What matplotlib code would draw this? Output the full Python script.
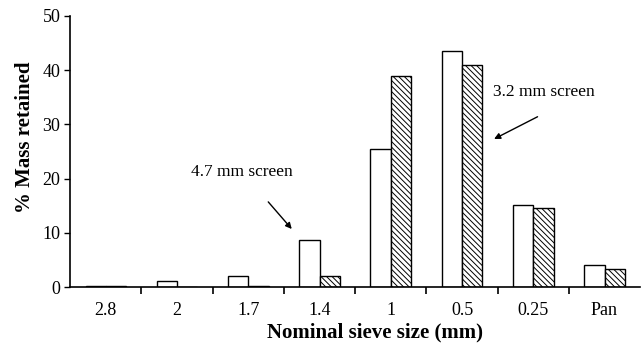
import matplotlib
matplotlib.use("Agg")
import matplotlib.pyplot as plt
import numpy as np

plt.rcParams['font.family'] = ['Liberation Serif', 'DejaVu Serif']
plt.rcParams['hatch.color'] = '#444444'
plt.rcParams['hatch.linewidth'] = 0.7

sieve = ['2.8', '2', '1.7', '1.4', '1', '0.5', '0.25', 'Pan']
screen_47 = [0.2, 1.2, 2.0, 8.6, 25.4, 43.5, 15.2, 4.0]
screen_32 = [0.1, 0.0, 0.2, 2.0, 38.9, 41.0, 14.6, 3.3]

x = np.arange(len(sieve))
w = 0.285

fig = plt.figure(figsize=(6.44, 3.45), dpi=100)
ax = fig.add_axes([0.109, 0.168, 0.885, 0.786])

ax.bar(x - w / 2, screen_47, w, color='white', edgecolor='black', linewidth=1)
ax.bar(x + w / 2, screen_32, w, color='white', edgecolor='black', linewidth=1,
       hatch='\\\\\\\\\\\\')

ax.set_xlim(-0.5, len(sieve) - 0.5)
ax.set_ylim(0, 50)
ax.set_yticks(range(0, 51, 10))
ax.set_xticks(x)
ax.set_xticklabels(sieve)
ax.tick_params(axis='x', length=0, labelsize=13, pad=11)
ax.set_xticks(np.arange(0.5, len(sieve) - 0.5), minor=True)
ax.tick_params(axis='x', which='minor', length=5, direction='out', width=1.2)
ax.tick_params(axis='y', labelsize=13, length=4, width=1, direction='out', pad=3)

for s in ['top', 'right']:
    ax.spines[s].set_visible(False)
for s in ['left', 'bottom']:
    ax.spines[s].set_linewidth(1.2)

ax.set_xlabel('Nominal sieve size (mm)', fontsize=15, fontweight='bold')
ax.set_ylabel('% Mass retained', fontsize=15, fontweight='bold')
ax.xaxis.set_label_coords(0.535, -0.168)
ax.yaxis.set_label_coords(-0.079, 0.553)
ax.xaxis.label.set_va('center')
ax.yaxis.label.set_va('center')

arrow = dict(arrowstyle='-|>', color='black', lw=1, mutation_scale=9,
             shrinkA=0, shrinkB=0)
ax.annotate('', xy=(2.61, 10.7), xytext=(2.28, 15.7), arrowprops=arrow)
ax.text(1.91, 21.2, '4.7 mm screen', ha='center', va='center', fontsize=12.5)
ax.annotate('', xy=(5.45, 27.3), xytext=(6.06, 31.4), arrowprops=arrow)
ax.text(6.15, 36.0, '3.2 mm screen', ha='center', va='center', fontsize=12.5)

fig.savefig('out.png', dpi=100)
